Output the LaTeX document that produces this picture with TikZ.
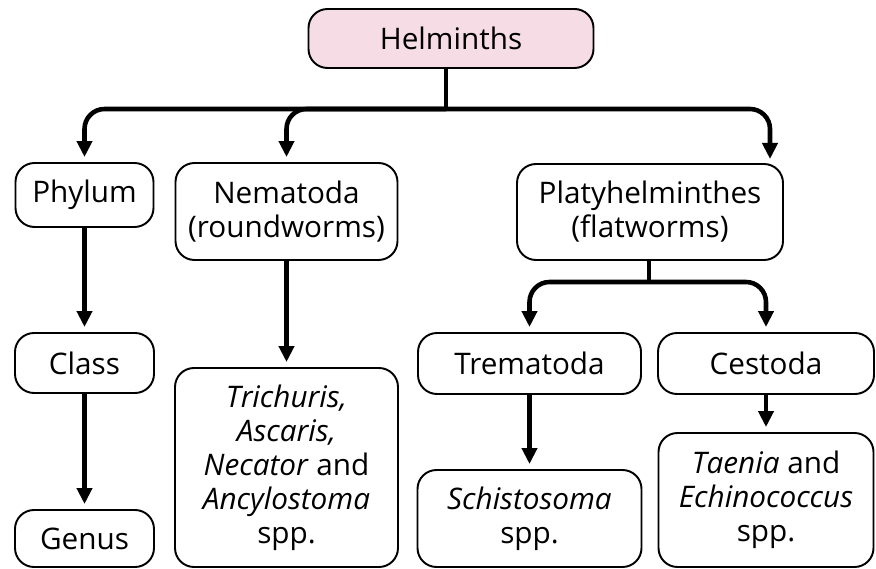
\documentclass[tikz,border=0pt]{standalone}
\usepackage{fontspec}
\setmainfont{Open Sans}
\usetikzlibrary{calc}
\usetikzlibrary{positioning}
\usetikzlibrary{arrows.meta}
\definecolor{helmpink}{RGB}{246,220,228}

\tikzset{
  box/.style={rectangle, rounded corners=0.38cm, draw=black, line width=1.1pt, align=center, inner sep=0pt, font=\fontsize{16.9}{19.3}\selectfont},
  link/.style={line width=2.6pt, -{Triangle[length=0.32cm,width=0.3cm]}, shorten >=0.1cm},
  stem/.style={line width=2.6pt},
}

\begin{document}
\begin{tikzpicture}
    \useasboundingbox (0,0) rectangle (17.52,-11.38);

    \node [box, fill=helmpink, minimum width=5.7cm, minimum height=1.18cm] (helminths) at (9.02,-0.77) {Helminths};

    \node [box, minimum width=2.76cm, minimum height=1.28cm] (phylum) at (1.69,-3.9) {Phylum};
    \node [box, minimum width=4.44cm, minimum height=1.94cm] (nematoda) at (5.73,-4.23) {Nematoda\\(roundworms)};
    \node [box, minimum width=5.32cm, minimum height=1.92cm] (platy) at (13.0,-4.24) {Platyhelminthes\\(flatworms)};

    \node [box, minimum width=2.78cm, minimum height=1.2cm] (class) at (1.69,-7.26) {Class};
    \node [box, minimum width=2.78cm, minimum height=1.14cm] (genus) at (1.69,-10.77) {Genus};
    \node [box, minimum width=4.46cm, minimum height=3.98cm] (trichuris) at (5.73,-9.35) {\textit{Trichuris,}\\\textit{Ascaris,}\\\textit{Necator} and\\\textit{Ancylostoma}\\spp.};

    \node [box, minimum width=4.46cm, minimum height=1.22cm] (trematoda) at (10.59,-7.27) {Trematoda};
    \node [box, minimum width=4.32cm, minimum height=1.22cm] (cestoda) at (15.32,-7.27) {Cestoda};
    \node [box, minimum width=4.48cm, minimum height=1.94cm] (schisto) at (10.59,-10.37) {\textit{Schistosoma}\\spp.};
    \node [box, minimum width=4.3cm, minimum height=2.68cm] (taenia) at (15.32,-10.0) {\textit{Taenia} and\\\textit{Echinococcus}\\spp.};

    \coordinate (hub) at (8.92,-2.18);
    \coordinate (platyin) at (15.4,-3.28);
    \coordinate (hub2) at (12.98,-5.64);

    % top level split
    \draw [stem] (helminths.south -| hub) -- (hub);
    \draw [link, rounded corners=0.4cm] (hub) -| (phylum.north);
    \draw [link, rounded corners=0.4cm] (hub) -| (nematoda.north);
    \draw [link, rounded corners=0.4cm] (hub) -| (platyin);

    % flatworm split
    \draw [stem] (platy.south -| hub2) -- (hub2);
    \draw [link, rounded corners=0.4cm] (hub2) -| (trematoda.north);
    \draw [link, rounded corners=0.4cm] (hub2) -| (cestoda.north);

    \draw [link] (phylum) -- (class);
    \draw [link] (class) -- (genus);
    \draw [link] (nematoda) -- (trichuris);
    \draw [link] (trematoda) -- (schisto);
    \draw [link] (cestoda) -- (taenia);
\end{tikzpicture}
\end{document}
